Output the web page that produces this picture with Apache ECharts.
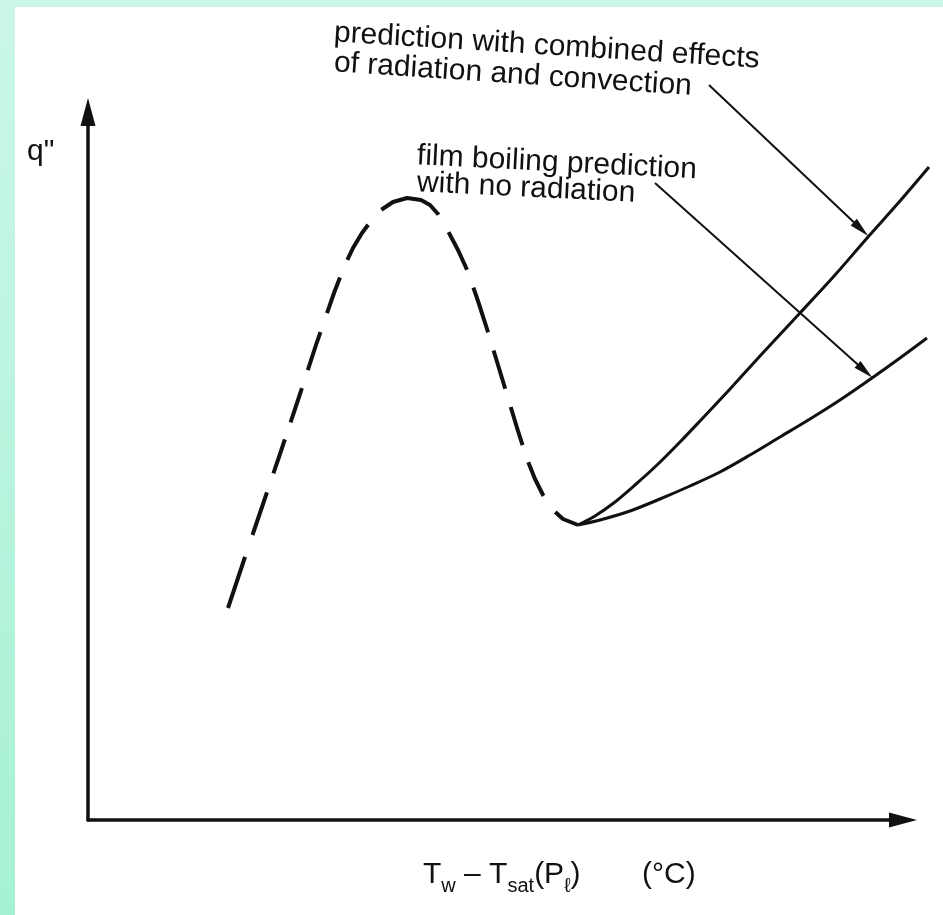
<!DOCTYPE html>
<html>
<head>
<meta charset="utf-8">
<script src="https://cdn.jsdelivr.net/npm/echarts@6/dist/echarts.min.js"></script>
<style>
html,body{margin:0;padding:0;background:#ffffff;}
#main{width:943px;height:915px;}
</style>
</head>
<body>
<div id="main"></div>
<script>
// Qualitative boiling curve (arbitrary units, origin at the axis corner)
const transitionCurve = [[140,212],[157,263],[174,313],[192,366],[210,420],[228,475],[246,527],[256,553],[265,572],[274,587],[283,599],[293,610],[305,618],[319,622],[333,620],[342,615],[350,606],[360,589],[370,570],[380,548],[390,519],[400,488],[410,455],[420,422],[430,389],[439,361],[447,341],[455,325],[465,310],[475,301],[490,295]];
const withRadiation = [[490,295],[507,304],[527,318],[547,335],[569,355],[592,378],[612,399],[642,431],[672,464],[712,507],[747,545],[780,583],[812,619],[841,653]];
const noRadiation = [[490,295],[512,300],[542,309],[572,321],[602,334],[632,348],[662,365],[692,383],[722,401],[752,420],[784,442],[812,462],[839,482]];
const leaderRadiation = [[621,735],[773,591]];
const leaderNoRadiation = [[567,637],[777,449]];
const annotationLines = ['prediction with combined effects', 'of radiation and convection', 'film boiling prediction', 'with no radiation'];
const yAxisLabel = 'q"';
const xAxisLabelParts = [
  {t: 'T', sub: false}, {t: 'w', sub: true}, {t: ' – T', sub: false}, {t: 'sat', sub: true},
  {t: '(P', sub: false}, {t: 'ℓ', sub: true}, {t: ')', sub: false}
];
const xAxisUnit = '(°C)';

const FONT = '"Liberation Sans", Arial, Helvetica, sans-serif';
const INK = '#111111';
// dash pattern (dash, gap, ...)
const DASH = [54,23,45,20,36,18,36,19,40,20,38,19,41,20,66,20,42,19,47,19,40,19,40,18,37,20,40,20];

const chart = echarts.init(document.getElementById('main'), null, {renderer: 'canvas'});

function txt(x, y, text, rot, size) {
  return {
    type: 'text', x: x, y: y, rotation: rot || 0, silent: true,
    style: {
      text: text, fill: INK, font: (size || 30) + 'px ' + FONT,
      align: 'left', verticalAlign: 'middle'
    }
  };
}

function subscriptLabel(x0, mainCenter, subCenter) {
  const ctx = document.createElement('canvas').getContext('2d');
  let x = x0;
  return xAxisLabelParts.map(function (p) {
    const size = p.sub ? 20 : 30;
    ctx.font = size + 'px ' + FONT;
    const el = txt(x, p.sub ? subCenter : mainCenter, p.t, 0, size);
    x += ctx.measureText(p.t).width;
    return el;
  });
}

const hiddenAxis = {
  show: false, axisLine: {show: false}, axisTick: {show: false},
  axisLabel: {show: false}, splitLine: {show: false}
};
const arrowAxis = function () {
  return {
    axisLine: {show: true, onZero: false, symbol: ['none', 'triangle'], symbolSize: [15, 28],
      lineStyle: {color: INK, width: 3.5}},
    axisTick: {show: false}, axisLabel: {show: false}, splitLine: {show: false}
  };
};

const option = {
  animation: false,
  backgroundColor: '#ffffff',
  grid: [
    {left: 88, right: 40, top: 112, bottom: 95, outerBoundsMode: 'none', containLabel: false},
    {left: 88, right: 0, top: 0, bottom: 95, outerBoundsMode: 'none', containLabel: false}
  ],
  xAxis: [
    Object.assign({type: 'value', gridIndex: 0, min: 0, max: 815}, arrowAxis()),
    Object.assign({type: 'value', gridIndex: 1, min: 0, max: 855}, hiddenAxis)
  ],
  yAxis: [
    Object.assign({type: 'value', gridIndex: 0, min: 0, max: 708}, arrowAxis()),
    Object.assign({type: 'value', gridIndex: 1, min: 0, max: 820}, hiddenAxis)
  ],
  series: [
    {
      type: 'line', xAxisIndex: 1, yAxisIndex: 1, data: transitionCurve, showSymbol: false,
      smooth: false, clip: false, silent: true,
      lineStyle: {color: INK, width: 4, type: DASH, cap: 'butt', join: 'round'}
    },
    {
      type: 'line', xAxisIndex: 1, yAxisIndex: 1, data: withRadiation, showSymbol: false,
      smooth: 0.3, clip: false, silent: true,
      lineStyle: {color: INK, width: 3},
      markLine: {
        silent: true, symbol: ['none', 'triangle'], symbolSize: [9, 20],
        label: {show: false},
        lineStyle: {color: INK, width: 2, type: 'solid'},
        emphasis: {disabled: true},
        data: [
          [{coord: leaderRadiation[0]}, {coord: leaderRadiation[1]}],
          [{coord: leaderNoRadiation[0]}, {coord: leaderNoRadiation[1]}]
        ]
      }
    },
    {
      type: 'line', xAxisIndex: 1, yAxisIndex: 1, data: noRadiation, showSymbol: false,
      smooth: 0.3, clip: false, silent: true,
      lineStyle: {color: INK, width: 3}
    }
  ],
  graphic: [
    {type: 'rect', shape: {x: 0, y: 0, width: 943, height: 7}, style: {fill: '#cbf7e7'}, silent: true},
    {type: 'rect', shape: {x: 0, y: 0, width: 15, height: 915}, silent: true,
      style: {fill: new echarts.graphic.LinearGradient(0, 0, 0, 1, [
        {offset: 0, color: '#cbf7e7'}, {offset: 1, color: '#a6f1d4'}])}},
    txt(27, 152, yAxisLabel, 0),
    txt(334, 33, annotationLines[0], -0.062),
    txt(334, 63, annotationLines[1], -0.066),
    txt(417, 156, annotationLines[2], -0.05),
    txt(417, 183, annotationLines[3], -0.048)
  ].concat(subscriptLabel(423, 875, 886)).concat([txt(642, 875, xAxisUnit, 0)])
};
chart.setOption(option);
</script>
</body>
</html>
